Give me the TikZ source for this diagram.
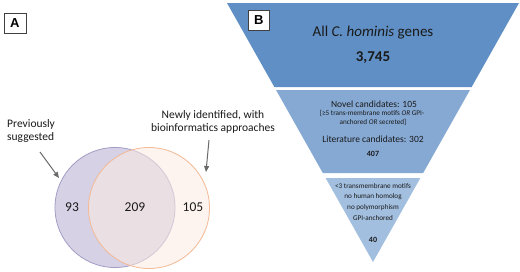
\documentclass[tikz,border=0pt]{standalone}
\usepackage{fontspec}
\setmainfont{Carlito}
\newfontfamily\labelfont{Liberation Sans}
\usetikzlibrary{arrows.meta}
\definecolor{secA}{HTML}{5F8FC4}
\definecolor{secB}{HTML}{86A9D4}
\definecolor{secC}{HTML}{A2BFE0}
\definecolor{lavfill}{HTML}{D6D1E5}
\definecolor{lavline}{HTML}{A39DC6}
\definecolor{peachfill}{HTML}{FCEBE2}
\definecolor{peachline}{HTML}{F4B995}
\definecolor{arrowgray}{HTML}{6A6A6A}
\definecolor{txt}{HTML}{1A1A1A}
\begin{document}
\begin{tikzpicture}[x=1pt,y=-1pt,
  panellabel/.style={draw=black!75,line width=0.8pt,fill=white,inner sep=0pt,
     font=\labelfont\bfseries\fontsize{13}{13}\selectfont},
  pointer/.style={draw=arrowgray,line width=1pt,-{Triangle[length=6pt,width=5pt]}},
  venntext/.style={text=txt,font=\fontsize{13.5}{16}\selectfont},
  sidelabel/.style={text=txt,font=\fontsize{11.5}{13}\selectfont,inner sep=0pt},
  big/.style={text=txt,font=\fontsize{15}{18}\selectfont,inner sep=0pt},
  mid/.style={text=txt,font=\fontsize{9.5}{11}\selectfont,inner sep=0pt},
  small/.style={text=txt,font=\fontsize{7.2}{9}\selectfont,inner sep=0pt},
  num/.style={text=txt,font=\bfseries\fontsize{8}{9}\selectfont,inner sep=0pt}]
\useasboundingbox (0,0) rectangle (520,271);
\fill[white] (0,0) rectangle (520,271);

% ---- Panel B: funnel ----
\fill[secA] (227,3) -- (519,3) -- (471.65,87) -- (274.35,87) -- cycle;
\fill[secB] (276.04,90) -- (469.96,90) -- (423.17,173) -- (322.83,173) -- cycle;
\fill[secC] (325.65,178) -- (420.35,178) -- (373,262) -- cycle;

\node[big] (allgenes) at (373,33) {All \textit{C. hominis} genes};
\node[big,font=\bfseries\fontsize{15}{18}\selectfont] (n3745) at (373,58) {3,745};

\node[mid] (novel) at (374,104) {Novel candidates: 105};
\node[small] (crit1) at (372,113) {[≥5 trans-membrane motifs \textit{OR} GPI-};
\node[small] (crit2) at (373,122) {anchored \textit{OR} secreted]};
\node[mid] (lit) at (373,139) {Literature candidates: 302};
\node[num] (n407) at (373,154) {407};

\node[small] (f1) at (373,186) {<3 transmembrane motifs};
\node[small] (f2) at (373,197) {no human homolog};
\node[small] (f3) at (373,208) {no polymorphism};
\node[small] (f4) at (373,218) {GPI-anchored};
\node[num] (n40) at (373,240) {40};

% ---- Panel A: Venn ----
\fill[lavfill] (115,207.5) circle (60);
\draw[lavline,line width=0.8pt] (115,207.5) circle (60);
\fill[peachfill,fill opacity=0.55] (149,208) circle (60.5);
\draw[peachline,line width=0.8pt] (149,208) circle (60.5);

\node[venntext] (v93) at (72,207) {93};
\node[venntext] (v209) at (135,207) {209};
\node[venntext] (v105) at (193,207) {105};

\node[sidelabel,align=left,anchor=west] (prev) at (7,131) {Previously\\suggested};
\node[sidelabel,align=center] (newly) at (213,122) {Newly identified, with\\bioinformatics approaches};

\coordinate (pa) at (40,152);
\coordinate (pb) at (59,178);
\coordinate (na) at (209,140);
\coordinate (nb) at (206,172);
\draw[pointer] (pa) -- (pb);
\draw[pointer] (na) -- (nb);

% ---- Panel labels ----
\node[panellabel,minimum width=22pt,minimum height=20pt,anchor=north west] (labA) at (3.5,13) {A};
\node[panellabel,minimum width=21pt,minimum height=20pt,anchor=north west] (labB) at (248,10) {B};
\end{tikzpicture}
\end{document}
